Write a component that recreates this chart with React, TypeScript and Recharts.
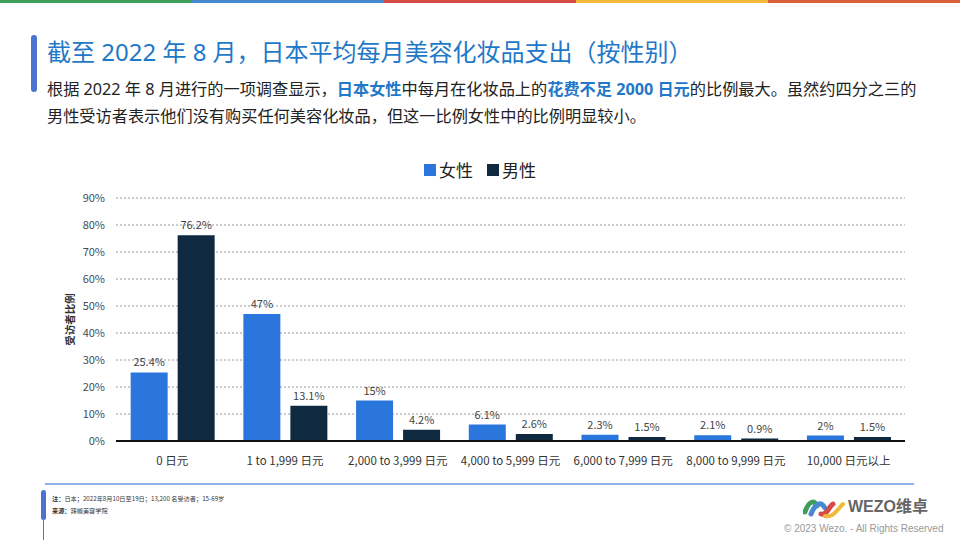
import React from 'react';
import {
  BarChart, Bar, XAxis, YAxis, CartesianGrid, LabelList
} from 'recharts';

const categories = ['0 日元', '1 to 1,999 日元', '2,000 to 3,999 日元', '4,000 to 5,999 日元', '6,000 to 7,999 日元', '8,000 to 9,999 日元', '10,000 日元以上'];
const femaleShare = [25.4, 47, 15, 6.1, 2.3, 2.1, 2];
const maleShare = [76.2, 13.1, 4.2, 2.6, 1.5, 0.9, 1.5];
const yTicks = [0, 10, 20, 30, 40, 50, 60, 70, 80, 90];
const stripeColors = ['#3f9f5a', '#4a88d2', '#d84a46', '#efb93c', '#d9603b'];

const FEMALE = '#2a76dd';
const MALE = '#0f2940';
const FONT = '"Noto Sans CJK SC", "Noto Sans", sans-serif';
const HEAD_FONT = '"Noto Sans", "Noto Sans CJK SC", sans-serif';

const data = categories.map((name, i) => ({
  name,
  female: femaleShare[i],
  male: maleShare[i],
}));

const pct = (v: number) => `${v}%`;

export default function App() {
  return (
    <div style={{ position: 'fixed', left: 0, top: 0, width: 960, height: 540, background: '#fff', fontFamily: FONT, overflow: 'hidden' }}>
      {/* colour stripe */}
      <div style={{ position: 'absolute', left: 0, top: 0, width: 960, height: 3, display: 'flex' }}>
        {stripeColors.map(c => <div key={c} style={{ flex: 1, background: c }} />)}
      </div>

      {/* title */}
      <div style={{ position: 'absolute', left: 31, top: 35, width: 6, height: 57, borderRadius: 3, background: '#4a74d0' }} />
      <div style={{ position: 'absolute', left: 47, top: 34, fontSize: 24, color: '#1f78c8', whiteSpace: 'nowrap', lineHeight: '36px', fontFamily: HEAD_FONT }}>
        截至 2022 年 8 月，日本平均每月美容化妆品支出（按性别）
      </div>
      <div style={{ position: 'absolute', left: 47, top: 76, fontSize: 16.2, color: '#222', lineHeight: '27px', whiteSpace: 'nowrap', fontFamily: HEAD_FONT }}>
        <div>
          根据 2022 年 8 月进行的一项调查显示，<b style={{ color: '#1f78c8' }}>日本女性</b>中每月在化妆品上的<b style={{ color: '#1f78c8' }}>花费不足 2000 日元</b>的比例最大。虽然约四分之三的
        </div>
        <div>男性受访者表示他们没有购买任何美容化妆品，但这一比例女性中的比例明显较小。</div>
      </div>

      {/* legend */}
      <div style={{ position: 'absolute', left: 0, top: 158, width: 960, display: 'flex', justifyContent: 'center', gap: 14, fontSize: 17, color: '#222', lineHeight: '24px' }}>
        <span style={{ display: 'flex', alignItems: 'center', gap: 3 }}>
          <span style={{ width: 12, height: 12, background: FEMALE, display: 'inline-block' }} />女性
        </span>
        <span style={{ display: 'flex', alignItems: 'center', gap: 3 }}>
          <span style={{ width: 12, height: 12, background: MALE, display: 'inline-block' }} />男性
        </span>
      </div>

      {/* chart */}
      <div style={{ position: 'absolute', left: 0, top: 150 }}>
        <BarChart
          width={960}
          height={330}
          data={data}
          margin={{ top: 48, right: 55, left: 60, bottom: 9 }}
          barCategoryGap="13%"
          barGap={10}
        >
          <CartesianGrid vertical={false} strokeDasharray="2 2" stroke="#9a9a9a" />
          <XAxis
            dataKey="name"
            height={30}
            tickLine={false}
            axisLine={{ stroke: '#111', strokeWidth: 2 }}
            tickMargin={10}
            interval={0}
            tick={{ fontSize: 11.5, fill: '#333', fontFamily: FONT }}
          />
          <YAxis
            width={56}
            domain={[0, 90]}
            ticks={yTicks}
            tickFormatter={pct}
            tickLine={false}
            axisLine={false}
            tickMargin={5}
            tick={{ fontSize: 11, fill: '#454c58', fontFamily: FONT }}
            label={{
              value: '受访者比例',
              angle: -90,
              position: 'insideLeft',
              offset: 10,
              style: { textAnchor: 'middle', fontSize: 10.5, fill: '#333', fontWeight: 700, fontFamily: FONT },
            }}
          />
          <Bar dataKey="female" fill={FEMALE} isAnimationActive={false}>
            <LabelList dataKey="female" position="top" offset={6} formatter={pct} style={{ fontSize: 11, fill: '#444', fontFamily: FONT }} />
          </Bar>
          <Bar dataKey="male" fill={MALE} isAnimationActive={false}>
            <LabelList dataKey="male" position="top" offset={6} formatter={pct} style={{ fontSize: 11, fill: '#444', fontFamily: FONT }} />
          </Bar>
        </BarChart>
      </div>

      {/* footer */}
      <div style={{ position: 'absolute', left: 45, top: 483, width: 869, height: 1.5, background: '#8fb0e8' }} />
      <div style={{ position: 'absolute', left: 41, top: 490, width: 5, height: 30, borderRadius: 3, background: '#4a74d0' }} />
      <div style={{ position: 'absolute', left: 43, top: 518, width: 1, height: 22, background: '#4a74d0' }} />
      <div style={{ position: 'absolute', left: 52, top: 493, fontSize: 6.2, color: '#333', lineHeight: '12px', whiteSpace: 'nowrap' }}>
        <div><b>注：</b>日本；2022年8月10日至19日；13,200 名受访者；15-69岁</div>
        <div><b>来源：</b>辣椒美容学院</div>
      </div>

      {/* logo */}
      <svg style={{ position: 'absolute', left: 803, top: 496 }} width={44} height={24} viewBox="0 0 44 24">
        <path d="M2 16 C6 4, 12 4, 14 10" stroke="#3f9f5a" strokeWidth={5} fill="none" strokeLinecap="round" />
        <path d="M8 18 C12 8, 18 4, 22 12" stroke="#4a88d2" strokeWidth={5} fill="none" strokeLinecap="round" />
        <path d="M18 18 C24 20, 26 10, 30 8" stroke="#d84a46" strokeWidth={5} fill="none" strokeLinecap="round" />
        <path d="M22 20 C30 22, 34 14, 40 8" stroke="#efb93c" strokeWidth={4} fill="none" strokeLinecap="round" />
      </svg>
      <div style={{ position: 'absolute', left: 848, top: 496, fontSize: 16, fontWeight: 700, color: '#666', lineHeight: '22px', whiteSpace: 'nowrap', fontFamily: '"Liberation Sans", "Noto Sans CJK SC", sans-serif' }}>
        WEZO维卓
      </div>
      <div style={{ position: 'absolute', left: 784, top: 522, fontSize: 10, color: '#999', lineHeight: '14px', whiteSpace: 'nowrap', fontFamily: '"Liberation Sans", Arial, sans-serif' }}>
        © 2023 Wezo. - All Rights Reserved
      </div>
    </div>
  );
}
